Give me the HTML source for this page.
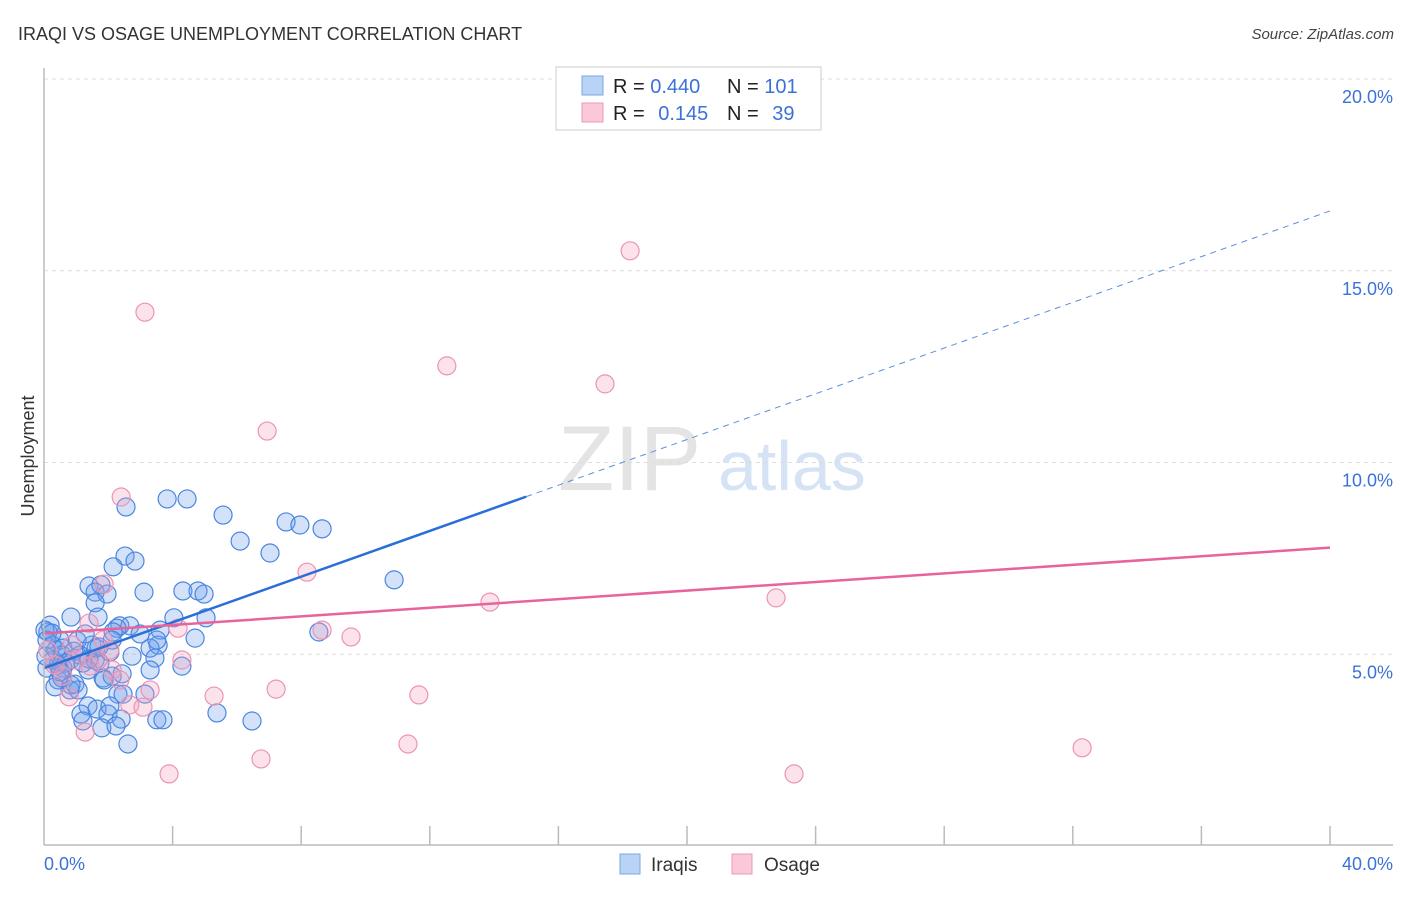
<!DOCTYPE html>
<html><head><meta charset="utf-8"><style>
body{margin:0;background:#fff;font-family:"Liberation Sans",sans-serif}
svg text{font-family:"Liberation Sans",sans-serif}
</style></head><body>
<svg id="chart" width="1406" height="892" xmlns="http://www.w3.org/2000/svg">
<text x="18" y="40" font-size="18" fill="#333">IRAQI VS OSAGE UNEMPLOYMENT CORRELATION CHART</text>
<text x="1394" y="39" font-size="15" fill="#444" font-style="italic" text-anchor="end">Source: ZipAtlas.com</text>
<text x="558" y="490" font-size="92" fill="#e4e4e4" font-family="Liberation Serif">ZIP</text>
<text x="718" y="490" font-size="70" fill="#d6e3f5">atlas</text>
<text x="34" y="456" font-size="18" fill="#333" text-anchor="middle" transform="rotate(-90 34 456)">Unemployment</text>
<g id="grid"></g><g id="pts"></g><g id="lines"></g>
<line x1="44" y1="68" x2="44" y2="845" stroke="#bbb" stroke-width="1.5"/>
<line x1="44" y1="845" x2="1393" y2="845" stroke="#bbb" stroke-width="1.5"/>
<text x="44" y="870" font-size="18" fill="#3a72d8">0.0%</text>
<text x="1393" y="870" font-size="18" fill="#3a72d8" text-anchor="end">40.0%</text>
<g>
<rect x="556" y="67" width="265" height="63" fill="#fff" stroke="#ccc"/>
<rect x="582" y="76" width="21" height="19" fill="#b9d3f5" stroke="#7aa6e6"/>
<rect x="582" y="103" width="21" height="19" fill="#fbc8d8" stroke="#eb9ab7"/>
<text x="613" y="93" font-size="20" fill="#222">R = <tspan fill="#3a72d8">0.440</tspan></text>
<text x="727" y="93" font-size="20" fill="#222">N = <tspan fill="#3a72d8">101</tspan></text>
<text x="613" y="120" font-size="20" fill="#222">R =  <tspan fill="#3a72d8" dx="8">0.145</tspan></text>
<text x="727" y="120" font-size="20" fill="#222">N =  <tspan fill="#3a72d8" dx="8">39</tspan></text>
</g>
<rect x="620" y="854" width="20" height="20" fill="#b9d3f5" stroke="#7aa6e6"/>
<text x="651" y="871" font-size="19" fill="#333">Iraqis</text>
<rect x="732" y="854" width="20" height="20" fill="#fbc8d8" stroke="#eb9ab7"/>
<text x="764" y="871" font-size="19" fill="#333">Osage</text>
</svg>
<script>
const yTicks=[5,10,15,20];
const xTicks=[0,4,8,12,16,20,24,28,32,36,40];
const blueX=[3.83,4.45,2.55,5.57,6.10,7.53,7.96,8.65,7.03,2.52,2.83,2.15,10.89,1.40,1.77,1.59,1.96,3.11,4.32,4.79,4.98,1.59,0.84,1.68,4.04,5.04,2.36,2.67,2.27,3.61,8.55,2.15,4.70,0.19,0.12,0.50,1.03,1.49,1.62,3.55,3.30,0.25,0.37,0.56,0.81,1.12,1.59,1.74,2.05,2.74,3.45,4.29,0.28,0.44,0.09,0.59,1.37,0.56,0.96,1.84,2.12,2.43,0.44,0.81,0.34,1.06,2.30,2.46,3.14,1.37,1.65,2.05,5.38,6.47,1.15,1.99,3.51,3.70,1.21,2.40,1.80,2.24,2.61,0.03,0.09,0.25,0.59,1.28,1.71,2.12,2.99,3.51,0.06,0.93,1.40,0.68,1.21,1.87,3.30,0.84,0.50];
const blueY=[9.05,9.05,8.84,8.63,7.95,8.45,8.37,8.27,7.64,7.56,7.43,7.28,6.94,6.78,6.81,6.62,6.57,6.62,6.65,6.65,6.57,6.34,5.97,5.97,5.95,5.95,5.74,5.74,5.68,5.63,5.58,5.58,5.42,5.76,5.58,5.37,5.35,5.24,5.16,5.24,5.16,5.24,5.11,4.98,4.85,4.98,4.85,4.77,5.06,4.95,4.90,4.69,4.85,4.72,4.64,4.64,4.59,4.38,4.22,4.38,4.43,4.49,4.33,4.07,4.15,4.07,3.96,3.96,3.96,3.65,3.57,3.65,3.47,3.26,3.44,3.44,3.29,3.29,3.26,3.31,3.08,3.13,2.66,5.63,5.37,5.55,5.16,5.53,5.19,5.37,5.53,5.37,4.95,5.08,4.88,4.77,4.77,4.33,4.59,4.20,4.54];
const pinkX=[3.14,18.23,12.53,17.45,6.94,2.40,1.87,8.18,13.87,22.77,8.65,4.17,9.55,1.40,0.87,1.84,1.00,1.43,4.29,2.12,2.05,5.29,7.22,11.66,2.67,3.08,0.78,1.28,11.32,6.75,3.89,23.33,32.29,0.12,0.34,2.36,1.68,3.30,0.59];
const pinkY=[13.92,15.52,12.52,12.05,10.82,9.10,6.83,7.14,6.36,6.47,5.63,5.68,5.45,5.81,5.24,5.37,4.85,4.69,4.85,4.59,5.11,3.91,4.09,3.94,3.68,3.62,3.89,2.97,2.66,2.27,1.88,1.88,2.56,5.11,4.72,4.33,4.85,4.07,4.43];
const blueFit=[4.64,0.298];
const pinkFit=[5.54,0.056];
const blueSolidEnd=15.0;
const NS='http://www.w3.org/2000/svg';
const sx=v=>44+v*32.15;
const sy=v=>846-v*38.35;
function mk(tag,attrs,parent){const e=document.createElementNS(NS,tag);for(const k in attrs)e.setAttribute(k,attrs[k]);parent.appendChild(e);return e;}
const grid=document.getElementById('grid'),pts=document.getElementById('pts'),lines=document.getElementById('lines'),svg=document.getElementById('chart');
yTicks.forEach(t=>{
 const l=mk('line',{x1:44,x2:1393,y1:sy(t),y2:sy(t),stroke:'#ddd','stroke-dasharray':'4,4'},grid);
 
 
 const tx=mk('text',{x:1393,y:sy(t)+24,'font-size':18,fill:'#3a72d8','text-anchor':'end'},grid);
 tx.textContent=t.toFixed(1)+'%';
 
 
});
xTicks.slice(1).forEach(t=>{
 const l=mk('line',{x1:sx(t),x2:sx(t),y1:826,y2:845,stroke:'#bbb','stroke-width':1.5},grid);
 
 
});
blueX.forEach((x,i)=>{
 const c=mk('circle',{cx:sx(x),cy:sy(blueY[i]),r:9,fill:'rgba(110,160,235,0.3)',stroke:'#4a86e0','stroke-width':1.2},pts);
 
 
});
pinkX.forEach((x,i)=>{
 const c=mk('circle',{cx:sx(x),cy:sy(pinkY[i]),r:9,fill:'rgba(245,160,190,0.3)',stroke:'#ec94b3','stroke-width':1.2},pts);
 
 
});
const f=(fit,x)=>fit[0]+fit[1]*x;
let l1=mk('line',{x1:sx(0),y1:sy(f(blueFit,0)),x2:sx(blueSolidEnd),y2:sy(f(blueFit,blueSolidEnd)),stroke:'#2a6fd8','stroke-width':2.5},lines);


let l2=mk('line',{x1:sx(blueSolidEnd),y1:sy(f(blueFit,blueSolidEnd)),x2:sx(40),y2:sy(f(blueFit,40)),stroke:'#5a90e0','stroke-width':1,'stroke-dasharray':'6,5'},lines);


let l3=mk('line',{x1:sx(0),y1:sy(f(pinkFit,0)),x2:sx(40),y2:sy(f(pinkFit,40)),stroke:'#e8639a','stroke-width':2.5},lines);


</script>
</body></html>
